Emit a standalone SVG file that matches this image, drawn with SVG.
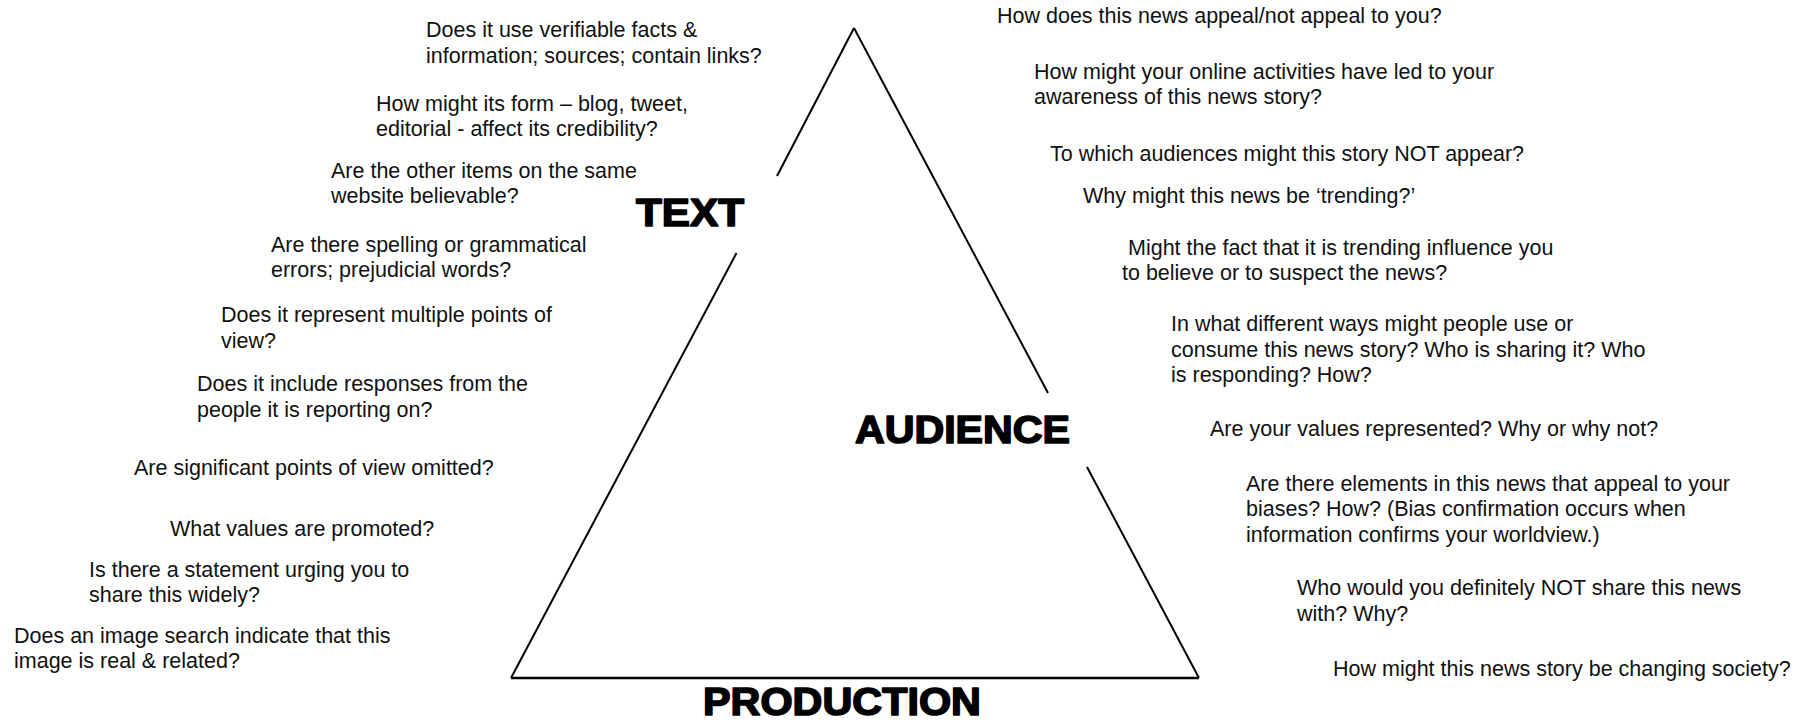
<svg xmlns="http://www.w3.org/2000/svg" width="1814" height="721" viewBox="0 0 1814 721">
<style>
.q{font-family:"Liberation Sans",Arial,sans-serif;font-size:21.5px;fill:#111}
.t{font-family:"Liberation Sans",Arial,sans-serif;font-size:38px;font-weight:bold;fill:#000;stroke:#000;stroke-width:1.6;stroke-linejoin:round}
.ln{stroke:#000;stroke-width:2;fill:none;stroke-linecap:butt}
</style>
<rect width="1814" height="721" fill="#fff"/>
<g id="connectors">
<line class="ln" x1="854" y1="28" x2="777" y2="176"/>
<line class="ln" x1="736.5" y1="253" x2="511" y2="678"/>
<line class="ln" x1="854" y1="28" x2="1048" y2="393"/>
<line class="ln" x1="1087" y1="467" x2="1199" y2="678"/>
<line class="ln" x1="511" y1="678" x2="1199" y2="678" style="stroke-width:2.5"/>
</g>
<g id="node-text"><text class="t" x="636" y="226" textLength="108" lengthAdjust="spacingAndGlyphs">TEXT</text></g>
<g id="node-audience"><text class="t" x="855" y="443" textLength="215" lengthAdjust="spacingAndGlyphs">AUDIENCE</text></g>
<g id="node-production"><text class="t" x="703" y="715" textLength="278" lengthAdjust="spacingAndGlyphs">PRODUCTION</text></g>
<g id="text-questions">
<text class="q" x="426" y="37">Does it use verifiable facts &amp;</text>
<text class="q" x="426" y="63">information; sources; contain links?</text>
<text class="q" x="376" y="111">How might its form – blog, tweet,</text>
<text class="q" x="376" y="136">editorial - affect its credibility?</text>
<text class="q" x="331" y="178">Are the other items on the same</text>
<text class="q" x="331" y="203">website believable?</text>
<text class="q" x="271" y="252">Are there spelling or grammatical</text>
<text class="q" x="271" y="277">errors; prejudicial words?</text>
<text class="q" x="221" y="322">Does it represent multiple points of</text>
<text class="q" x="221" y="348">view?</text>
<text class="q" x="197" y="391">Does it include responses from the</text>
<text class="q" x="197" y="417">people it is reporting on?</text>
<text class="q" x="134" y="475">Are significant points of view omitted?</text>
<text class="q" x="170" y="536">What values are promoted?</text>
<text class="q" x="89" y="577">Is there a statement urging you to</text>
<text class="q" x="89" y="602">share this widely?</text>
<text class="q" x="14" y="643">Does an image search indicate that this</text>
<text class="q" x="14" y="668">image is real &amp; related?</text>
</g>
<g id="audience-questions">
<text class="q" x="997" y="23">How does this news appeal/not appeal to you?</text>
<text class="q" x="1034" y="79">How might your online activities have led to your</text>
<text class="q" x="1034" y="104">awareness of this news story?</text>
<text class="q" x="1050" y="161">To which audiences might this story NOT appear?</text>
<text class="q" x="1083" y="203">Why might this news be ‘trending?’</text>
<text class="q" x="1128" y="255">Might the fact that it is trending influence you</text>
<text class="q" x="1122" y="280">to believe or to suspect the news?</text>
<text class="q" x="1171" y="331">In what different ways might people use or</text>
<text class="q" x="1171" y="357">consume this news story? Who is sharing it? Who</text>
<text class="q" x="1171" y="382">is responding? How?</text>
<text class="q" x="1210" y="436">Are your values represented? Why or why not?</text>
<text class="q" x="1246" y="491">Are there elements in this news that appeal to your</text>
<text class="q" x="1246" y="516">biases? How? (Bias confirmation occurs when</text>
<text class="q" x="1246" y="542">information confirms your worldview.)</text>
<text class="q" x="1297" y="595">Who would you definitely NOT share this news</text>
<text class="q" x="1297" y="621">with? Why?</text>
<text class="q" x="1333" y="676">How might this news story be changing society?</text>
</g>
</svg>
